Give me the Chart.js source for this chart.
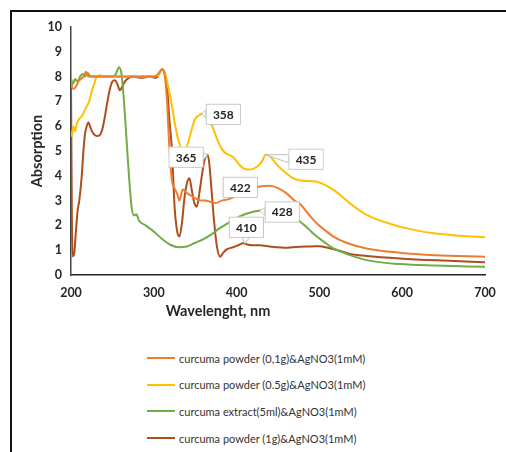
<!DOCTYPE html>
<html>
<head>
<meta charset="utf-8">
<script src="https://cdn.jsdelivr.net/npm/chart.js@4"></script>
<style>
  html, body { margin: 0; padding: 0; background: #fff; }
  body { width: 506px; height: 452px; position: relative; overflow: hidden; font-family: Lato, "Open Sans", sans-serif; }
  #frame { position: absolute; left: 10px; top: 10px; width: 520px; height: 460px; border-top: 2px solid #111; border-left: 2px solid #111; }
  #wrap { position: absolute; left: 0; top: 0; width: 506px; height: 330px; }
  #legend { position: absolute; left: 147px; top: 345px; }
  .item { height: 26.6px; display: flex; align-items: center; font-size: 11px; color: #333; }
  .swatch { width: 28px; height: 2px; margin-right: 4px; }
</style>
</head>
<body>
<div id="frame"></div>
<div id="wrap"><canvas id="grafico" width="506" height="330"></canvas></div>
<div id="legend"></div>
<script>
// series names (legend order)
const nombres = [
    "curcuma powder (0,1g)&AgNO3(1mM)",
    "curcuma powder (0.5g)&AgNO3(1mM)",
    "curcuma extract(5ml)&AgNO3(1mM)",
    "curcuma powder (1g)&AgNO3(1mM)"
];
const colores = ['#ED7D31', '#FFC000', '#70AD47', '#AE4E1C'];

// curcuma powder 0,1g
const nm01 = [200,201,203,206,209,212,215,218,221,225,240,260,280,300,305,310,313,316,319,322,325,328,331,335,340,345,350,356,362,368,375,382,390,400,410,420,430,440,450,460,470,477,487,497,507,517,537,557,597,640,700];
const abs01 = [8.0,7.6,7.5,7.6,7.8,7.9,8.0,8.2,8.0,8.0,8.0,8.0,8.0,8.0,8.1,8.3,8.1,7.0,5.0,3.8,3.5,3.3,3.0,3.45,3.3,3.2,3.1,3.0,3.0,2.95,2.9,3.0,3.05,3.2,3.4,3.5,3.58,3.6,3.5,3.3,3.0,2.85,2.45,2.08,1.8,1.55,1.25,1.07,0.9,0.8,0.74];

// curcuma powder 0.5g
const nm05 = [200,201,203,205,207,210,213,216,219,222,225,228,231,235,240,260,280,300,305,310,314,318,322,326,330,334,338,342,346,350,355,358,362,366,370,374,378,384,390,396,402,408,414,420,426,431,435,440,445,450,455,460,466,472,480,497,517,537,557,597,638,670,700];
const abs05 = [5.8,5.6,6.0,5.8,6.1,6.3,6.4,6.6,6.8,7.0,7.4,7.7,8.0,8.05,8.0,8.0,8.0,8.0,8.05,8.3,8.1,7.5,6.8,6.0,5.4,5.1,5.1,5.4,5.9,6.3,6.45,6.5,6.5,6.35,6.05,5.7,5.35,5.0,4.85,4.75,4.5,4.3,4.25,4.28,4.4,4.6,4.85,4.8,4.6,4.4,4.25,4.1,3.95,3.85,3.8,3.76,3.43,2.89,2.42,1.95,1.68,1.58,1.52];

// curcuma extract 5ml
const nmExt = [200,202,205,208,211,214,217,220,224,240,250,254,258,261,264,267,270,273,276,279,282,290,300,310,320,330,340,350,360,370,380,390,400,410,420,428,440,450,460,470,477,487,497,507,517,537,557,597,640,700];
const absExt = [7.9,7.7,7.9,7.8,8.0,8.1,8.0,8.15,8.0,8.0,8.0,8.1,8.38,8.1,7.0,5.5,4.0,2.8,2.4,2.45,2.2,2.0,1.75,1.45,1.22,1.12,1.15,1.3,1.45,1.65,1.9,2.1,2.3,2.45,2.55,2.6,2.65,2.6,2.45,2.3,2.15,1.85,1.55,1.3,1.07,0.8,0.6,0.44,0.38,0.33];

// curcuma powder 1g
const nm1 = [200,201,202,204,206,208,210,213,215,217,219,221,224,227,231,235,238,241,244,247,250,253,256,259,262,265,270,275,285,295,303,307,310,313,316,319,322,325,328,331,334,337,340,343,346,349,352,355,358,361,363,365,367,370,373,376,380,384,388,396,402,408,414,420,428,440,448,458,468,477,490,500,510,520,537,557,597,650,700];
const abs1 = [7.9,2.5,0.75,0.9,1.8,2.6,3.0,4.0,5.0,5.7,6.0,6.15,5.9,5.7,5.6,5.65,5.9,6.4,7.0,7.5,7.8,7.85,7.7,7.45,7.6,7.8,7.95,8.0,7.95,8.0,7.95,8.15,8.3,8.15,7.6,6.2,5.0,2.8,1.8,1.55,2.1,3.1,3.7,3.9,3.4,2.9,2.76,3.3,4.0,4.6,4.8,4.85,4.5,3.3,2.1,1.2,0.74,0.9,1.03,1.12,1.2,1.28,1.22,1.2,1.2,1.15,1.12,1.1,1.12,1.14,1.15,1.16,1.1,1.02,0.85,0.77,0.67,0.58,0.51];

const ejeX = [200, 300, 400, 500, 600, 700];

// callouts: series index, wavelength, label offset
const etiquetas = [
    { s: 1, nm: 358, txt: '358', dx: 21, dy: 0 },
    { s: 3, nm: 365, txt: '365', dx: -22, dy: 2 },
    { s: 0, nm: 422, txt: '422', dx: -15, dy: -1 },
    { s: 1, nm: 435, txt: '435', dx: 40, dy: 4 },
    { s: 2, nm: 428, txt: '428', dx: 22, dy: 1 },
    { s: 3, nm: 410, txt: '410', dx: 1, dy: -17 }
];

const series = [[nm01, abs01], [nm05, abs05], [nmExt, absExt], [nm1, abs1]];

function interp(xs, ys, x) {
    for (let i = 1; i < xs.length; i++) {
        if (xs[i] >= x) {
            const t = (x - xs[i-1]) / (xs[i] - xs[i-1]);
            return ys[i-1] + t * (ys[i] - ys[i-1]);
        }
    }
    return ys[ys.length - 1];
}

const callouts = {
    id: 'callouts',
    afterDatasetsDraw(c) {
        const ctx = c.ctx, sx = c.scales.x, sy = c.scales.y;
        ctx.save();
        ctx.font = 'bold 12px Lato, sans-serif';
        etiquetas.forEach(e => {
            const [xs, ys] = series[e.s];
            const ax = sx.getPixelForValue(e.nm);
            const ay = sy.getPixelForValue(interp(xs, ys, e.nm));
            const w = 34, h = 20;
            const cx = ax + e.dx, cy = ay + e.dy;
            const l = cx - w / 2, t = cy - h / 2;
            // pointer wedge
            ctx.fillStyle = '#fff';
            ctx.strokeStyle = '#BFBFBF';
            ctx.lineWidth = 1;
            ctx.beginPath();
            if (Math.abs(e.dx) >= Math.abs(e.dy)) {
                const ex = e.dx > 0 ? l : l + w;
                ctx.moveTo(ex, cy - 4); ctx.lineTo(ax, ay); ctx.lineTo(ex, cy + 4);
            } else {
                const ey = e.dy > 0 ? t : t + h;
                ctx.moveTo(cx - 4, ey); ctx.lineTo(ax, ay); ctx.lineTo(cx + 4, ey);
            }
            ctx.closePath();
            ctx.fill(); ctx.stroke();
            ctx.fillRect(l, t, w, h);
            ctx.strokeRect(l + 0.5, t + 0.5, w, h);
            ctx.fillStyle = '#fff';
            ctx.fillRect(l + 1, t + 1, w - 1, h - 1);
            ctx.fillStyle = '#262626';
            ctx.textAlign = 'center';
            ctx.textBaseline = 'middle';
            ctx.fillText(e.txt, cx + 0.5, cy + 1);
        });
        // x axis title (sits left of centre in the original)
        ctx.font = 'bold 14.5px Lato, sans-serif';
        ctx.fillStyle = '#262626';
        ctx.textAlign = 'center';
        ctx.textBaseline = 'middle';
        ctx.fillText('Wavelenght, nm', 218, 311);
        ctx.restore();
    }
};

new Chart(document.getElementById('grafico'), {
    type: 'line',
    data: {
        datasets: series.map((s, i) => ({
            label: nombres[i],
            data: s[0].map((x, k) => ({ x: x, y: s[1][k] })),
            borderColor: colores[i],
            borderWidth: 2,
            pointRadius: 0,
            cubicInterpolationMode: 'monotone',
            fill: false
        }))
    },
    options: {
        responsive: false,
        animation: false,
        events: [],
        layout: { padding: { left: 0, right: 21, top: 27, bottom: 0 } },
        plugins: { legend: { display: false }, tooltip: { enabled: false } },
        scales: {
            x: {
                type: 'linear', min: 200, max: 700,
                afterBuildTicks: s => { s.ticks = ejeX.map(v => ({ value: v })); },
                afterFit: s => { s.height = 55; },
                grid: { display: false, drawTicks: false },
                border: { display: true, color: '#222', width: 1.5 },
                ticks: { padding: 10, color: '#262626', font: { family: 'Lato', size: 12.5, weight: 'bold' } }
            },
            y: {
                min: 0, max: 10,
                afterFit: s => { s.width = 71; },
                grid: { display: false, drawTicks: false },
                border: { display: true, color: '#444', width: 1.5 },
                ticks: { stepSize: 1, padding: 9, color: '#262626', font: { family: 'Lato', size: 12.5, weight: 'bold' } },
                title: { display: true, text: 'Absorption', color: '#262626', padding: { top: 29, bottom: 0 }, font: { family: 'Lato', size: 14.5, weight: 'bold' } }
            }
        }
    },
    plugins: [callouts]
});

// legend below the plot
const leg = document.getElementById('legend');
nombres.forEach((n, i) => {
    leg.innerHTML += `<div class="item"><span class="swatch" style="background:${colores[i]}"></span>${n}</div>`;
});
</script>
</body>
</html>
